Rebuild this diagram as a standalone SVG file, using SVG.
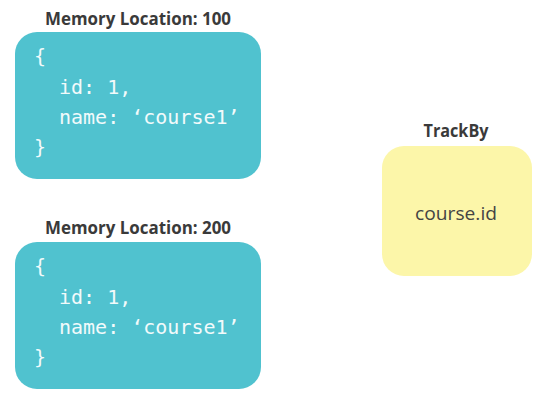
<svg xmlns="http://www.w3.org/2000/svg" width="547" height="409" viewBox="0 0 547 409">
<style>
.title{font-family:"Open Sans","Liberation Sans",sans-serif;font-weight:bold;font-size:17.5px;fill:#3a3a3a;text-anchor:middle}
.code{font-family:"DejaVu Sans Mono","Liberation Mono",monospace;font-size:20px;fill:#f2fafb}
.mem{fill:#50c2cf}
.track{fill:#fcf6a9}
.label{font-family:"Open Sans","Liberation Sans",sans-serif;font-size:19px;fill:#444;text-anchor:middle}
</style>
<rect width="547" height="409" fill="#ffffff"/>
<g id="mem100">
<text class="title" x="138" y="25" textLength="186" lengthAdjust="spacingAndGlyphs">Memory Location: 100</text>
<rect class="mem" x="15" y="32" width="246" height="147" rx="22"/>
<text class="code" x="34" y="63">{</text>
<text class="code" x="59" y="94">id: 1,</text>
<text class="code" x="59" y="124">name: ‘course1’</text>
<text class="code" x="34" y="154">}</text>
</g>
<g id="mem200">
<text class="title" x="138" y="234" textLength="186" lengthAdjust="spacingAndGlyphs">Memory Location: 200</text>
<rect class="mem" x="15" y="242" width="246" height="147" rx="22"/>
<text class="code" x="34" y="273">{</text>
<text class="code" x="59" y="304">id: 1,</text>
<text class="code" x="59" y="334">name: ‘course1’</text>
<text class="code" x="34" y="364">}</text>
</g>
<g id="trackby">
<text class="title" x="456" y="137" textLength="65" lengthAdjust="spacingAndGlyphs">TrackBy</text>
<rect class="track" x="382" y="146" width="150" height="130" rx="22"/>
<text class="label" x="456" y="220" textLength="82" lengthAdjust="spacingAndGlyphs">course.id</text>
</g>
<g id="connectors"></g>
</svg>
